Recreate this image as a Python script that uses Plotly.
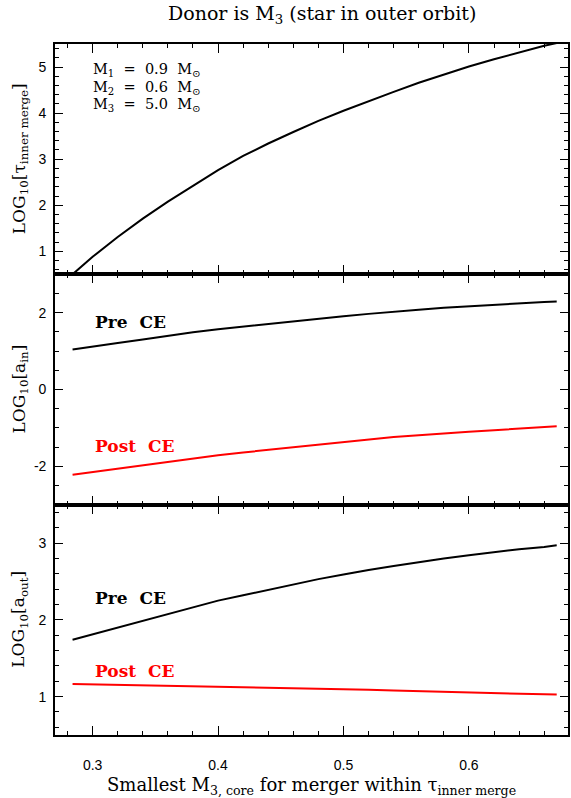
import plotly.graph_objects as go
from plotly.subplots import make_subplots

# ---- data ----
x_core = [0.284, 0.30, 0.32, 0.34, 0.36, 0.38, 0.40, 0.42, 0.44, 0.46, 0.48,
          0.50, 0.52, 0.54, 0.56, 0.58, 0.60, 0.62, 0.64, 0.66, 0.67]
log_tau_inner = [0.50, 0.88, 1.31, 1.71, 2.08, 2.42, 2.76, 3.07, 3.34, 3.59, 3.83,
                 4.05, 4.26, 4.46, 4.66, 4.84, 5.01, 5.17, 5.32, 5.46, 5.52]
log_ain_pre = [1.04, 1.12, 1.21, 1.30, 1.40, 1.49, 1.57, 1.64, 1.71, 1.78, 1.85,
               1.91, 1.97, 2.03, 2.08, 2.13, 2.17, 2.21, 2.25, 2.28, 2.29]
log_ain_post = [-2.22, -2.15, -2.06, -1.97, -1.88, -1.79, -1.71, -1.64, -1.57, -1.50, -1.43,
                -1.37, -1.30, -1.24, -1.19, -1.14, -1.10, -1.06, -1.02, -0.98, -0.96]
log_aout_pre = [1.74, 1.81, 1.90, 1.99, 2.08, 2.17, 2.25, 2.32, 2.39, 2.46, 2.53,
                2.59, 2.65, 2.70, 2.75, 2.80, 2.84, 2.88, 2.92, 2.95, 2.97]
log_aout_post = [1.165, 1.16, 1.155, 1.15, 1.145, 1.14, 1.133, 1.127, 1.12, 1.113, 1.105,
                 1.097, 1.089, 1.08, 1.071, 1.062, 1.053, 1.044, 1.036, 1.03, 1.026]

x_tickvals = [0.3, 0.4, 0.5, 0.6]
x_ticktext = ["0.3", "0.4", "0.5", "0.6"]
y1_tickvals = [1, 2, 3, 4, 5]
y1_ticktext = ["1", "2", "3", "4", "5"]
y2_tickvals = [-2, 0, 2]
y2_ticktext = ["-2", "0", "2"]
y3_tickvals = [1, 2, 3]
y3_ticktext = ["1", "2", "3"]

SERIF = "DejaVu Serif"
SANS = "Liberation Sans"

fig = make_subplots(rows=3, cols=1, shared_xaxes=True, vertical_spacing=0)

fig.add_trace(go.Scatter(x=x_core, y=log_tau_inner, mode="lines",
                         line=dict(color="black", width=2)), row=1, col=1)
fig.add_trace(go.Scatter(x=x_core, y=log_ain_pre, mode="lines",
                         line=dict(color="black", width=2)), row=2, col=1)
fig.add_trace(go.Scatter(x=x_core, y=log_ain_post, mode="lines",
                         line=dict(color="#ff0000", width=2)), row=2, col=1)
fig.add_trace(go.Scatter(x=x_core, y=log_aout_pre, mode="lines",
                         line=dict(color="black", width=2)), row=3, col=1)
fig.add_trace(go.Scatter(x=x_core, y=log_aout_post, mode="lines",
                         line=dict(color="#ff0000", width=2)), row=3, col=1)

axis_common = dict(showline=True, linecolor="black", linewidth=1.7, mirror="allticks",
                   ticks="inside", tickcolor="black", tickwidth=1.3,
                   showgrid=False, zeroline=False,
                   tickfont=dict(family=SANS, size=14, color="black"))

for i in (1, 2, 3):
    fig.update_xaxes(range=[0.27, 0.679], tickvals=x_tickvals, ticktext=x_ticktext,
                     ticklen=9, minor=dict(dtick=0.02, tick0=0.3, ticklen=4, ticks="inside",
                                           tickcolor="black", tickwidth=1.3, showgrid=False),
                     showticklabels=(i == 3), ticklabelstandoff=16,
                     **axis_common, row=i, col=1)

fig.update_yaxes(range=[0.5, 5.5], tickvals=y1_tickvals, ticktext=y1_ticktext, ticklen=8,
                 minor=dict(dtick=0.2, tick0=0, ticklen=4, ticks="inside", tickcolor="black",
                            tickwidth=1.3, showgrid=False),
                 ticklabelstandoff=4, **axis_common, row=1, col=1)
fig.update_yaxes(range=[-3, 3], tickvals=y2_tickvals, ticktext=y2_ticktext, ticklen=8,
                 minor=dict(dtick=0.5, tick0=0, ticklen=4, ticks="inside", tickcolor="black",
                            tickwidth=1.3, showgrid=False),
                 ticklabelstandoff=4, **axis_common, row=2, col=1)
fig.update_yaxes(range=[0.5, 3.5], tickvals=y3_tickvals, ticktext=y3_ticktext, ticklen=8,
                 minor=dict(dtick=0.2, tick0=0, ticklen=4, ticks="inside", tickcolor="black",
                            tickwidth=1.3, showgrid=False),
                 ticklabelstandoff=4, **axis_common, row=3, col=1)

annotations = []
# title
annotations.append(dict(text="Donor is M<sub>3</sub> (star in outer orbit)",
                        xref="paper", yref="paper", x=0.52, y=1.0, yshift=30,
                        xanchor="center", yanchor="middle", showarrow=False,
                        font=dict(family=SERIF, size=19, color="black")))
# x axis title
annotations.append(dict(text="Smallest M<sub>3, core</sub> for merger within \u03c4<sub>inner merge</sub>",
                        xref="paper", yref="paper", x=0.5, y=0, yshift=-51,
                        xanchor="center", yanchor="middle", showarrow=False,
                        font=dict(family=SERIF, size=18, color="black")))
# y axis titles
ytitles = [("LOG<sub>10</sub>[\u03c4<sub>inner merge</sub>]", "y domain"),
           ("LOG<sub>10</sub>[a<sub>in</sub>]", "y2 domain"),
           ("LOG<sub>10</sub>[a<sub>out</sub>]", "y3 domain")]
for txt, yr in ytitles:
    annotations.append(dict(text=txt, xref="paper", yref=yr, x=0, xshift=-35, y=0.5,
                            xanchor="center", yanchor="middle", textangle=-90,
                            showarrow=False, font=dict(family=SERIF, size=17, color="black")))
# mass labels
mass_lines = ["M<sub>1</sub>\u00a0\u00a0=\u00a0\u00a00.9\u00a0\u00a0M<sub>\u2299</sub>",
              "M<sub>2</sub>\u00a0\u00a0=\u00a0\u00a00.6\u00a0\u00a0M<sub>\u2299</sub>",
              "M<sub>3</sub>\u00a0\u00a0=\u00a0\u00a05.0\u00a0\u00a0M<sub>\u2299</sub>"]
for k, txt in enumerate(mass_lines):
    annotations.append(dict(text=txt, xref="x", yref="y", x=0.2986, y=4.93 - 0.375 * k,
                            xanchor="left", yanchor="middle", showarrow=False,
                            font=dict(family=SERIF, size=14.5, color="black")))
# curve labels
label_font = dict(family=SERIF, size=17)
annotations += [
    dict(text="<b>Pre\u00a0\u00a0CE</b>", xref="x2", yref="y2", x=0.3002, y=1.75,
         xanchor="left", yanchor="middle", showarrow=False, font=dict(**label_font, color="black")),
    dict(text="<b>Post\u00a0\u00a0CE</b>", xref="x2", yref="y2", x=0.3002, y=-1.48,
         xanchor="left", yanchor="middle", showarrow=False, font=dict(**label_font, color="#ff0000")),
    dict(text="<b>Pre\u00a0\u00a0CE</b>", xref="x3", yref="y3", x=0.3002, y=2.28,
         xanchor="left", yanchor="middle", showarrow=False, font=dict(**label_font, color="black")),
    dict(text="<b>Post\u00a0\u00a0CE</b>", xref="x3", yref="y3", x=0.3002, y=1.34,
         xanchor="left", yanchor="middle", showarrow=False, font=dict(**label_font, color="#ff0000")),
]

fig.update_layout(width=571, height=798, showlegend=False,
                  margin=dict(l=55, r=1, t=44, b=63),
                  paper_bgcolor="white", plot_bgcolor="white",
                  annotations=annotations)

fig.write_html("out.html", config={"displayModeBar": False},
               post_script="document.body.style.margin='0';document.body.style.padding='0';"
                           "document.body.style.overflow='hidden';")
